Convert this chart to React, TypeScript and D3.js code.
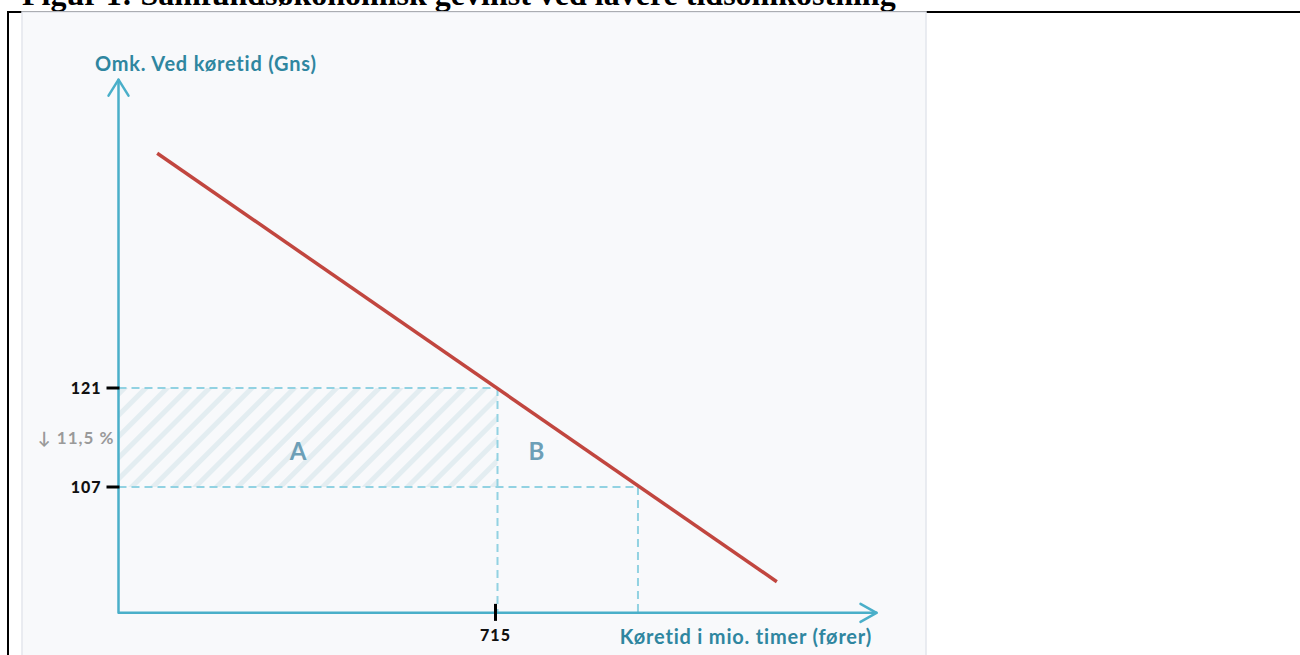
import React from "react";
import * as d3 from "d3";

// ---- data ----
const titleText = "Figur 1: Samfundsøkonomisk gevinst ved lavere tidsomkostning";
const yAxisTitle = "Omk. Ved køretid (Gns)";
const xAxisTitle = "Køretid i mio. timer (fører)";
const priceTicks = [121, 107];
const quantityTicks = [715];
const priceOld = 121;
const priceNew = 107;
const quantityOld = 715;
const quantityNew = 980;
const demandQ = [73, 1242];
const demandP = [154.2, 93.6];
const changeLabel = "↓ 11,5 %";
const areaLabels = ["A", "B"];

const W = 1300;
const H = 655;

export default function App() {
  const x = d3.scaleLinear().domain([0, 715]).range([118.5, 497.5]);
  const y = d3.scaleLinear().domain([107, 121]).range([487, 388]);
  const x0 = x(0);
  const yBase = y(89.2);
  const yTop = y(164.6);
  const xEnd = x(1430);

  const lineGen = d3
    .line<[number, number]>()
    .x((d) => x(d[0]))
    .y((d) => y(d[1]));
  const demand: [number, number][] = demandQ.map((q, i) => [q, demandP[i]]);

  const axisColor = "#4aafc9";
  const dashColor = "#92d2e2";
  const titleColor = "#2f86a0";
  const font = "Lato, 'Open Sans', sans-serif";

  return (
    <svg
      width={W}
      height={H}
      style={{ position: "absolute", left: 0, top: 0, display: "block" }}
    >
      <defs>
        <pattern
          id="hatch"
          patternUnits="userSpaceOnUse"
          width={15}
          height={15}
          patternTransform="rotate(45)"
        >
          <rect width={15} height={15} fill="#f8f9fb" />
          <rect x={0} y={0} width={5} height={15} fill="#e3edf1" />
        </pattern>
      </defs>
      <rect width={W} height={H} fill="#ffffff" />
      <text
        x={22}
        y={5}
        fontFamily="'Liberation Serif', 'Times New Roman', serif"
        fontWeight="bold"
        fontSize={32}
        fill="#000"
      >
        {titleText}
      </text>
      <line x1={7} x2={W} y1={12} y2={12} stroke="#000" strokeWidth={2} />
      <line x1={8} x2={8} y1={11} y2={H} stroke="#000" strokeWidth={2} />
      <rect x={22} y={12} width={904} height={H} fill="#f8f9fb" stroke="#e3e6ed" strokeWidth={1.5} />

      {/* hatched area A */}
      <rect
        x={x0}
        y={y(priceOld)}
        width={x(quantityOld) - x0}
        height={y(priceNew) - y(priceOld)}
        fill="url(#hatch)"
      />

      {/* dashed guides */}
      <g stroke={dashColor} strokeWidth={2} strokeDasharray="8,5" fill="none">
        <line x1={x0} x2={x(quantityOld)} y1={y(priceOld)} y2={y(priceOld)} />
        <line x1={x(quantityOld)} x2={x(quantityOld)} y1={y(priceOld)} y2={yBase} />
        <line x1={x0} x2={x(quantityNew)} y1={y(priceNew)} y2={y(priceNew)} />
        <line x1={x(quantityNew)} x2={x(quantityNew)} y1={y(priceNew)} y2={yBase} />
      </g>

      {/* axes */}
      <g stroke={axisColor} strokeWidth={2.5} fill="none" strokeLinecap="round" strokeLinejoin="round">
        <polyline points={`${x0},${yTop} ${x0},${yBase} ${xEnd},${yBase}`} />
        <polyline points={`${x0 - 10},${yTop + 16} ${x0},${yTop} ${x0 + 10},${yTop + 16}`} />
        <polyline points={`${xEnd - 16},${yBase - 9} ${xEnd},${yBase} ${xEnd - 16},${yBase + 9}`} />
      </g>

      {/* demand line */}
      <path d={lineGen(demand) || ""} stroke="#c1463f" strokeWidth={3.5} fill="none" />

      {/* ticks */}
      {priceTicks.map((p) => (
        <g key={p}>
          <line x1={x0 - 12} x2={x0 + 1} y1={y(p)} y2={y(p)} stroke="#000" strokeWidth={3} />
          <text
            x={x0 - 17}
            y={y(p)}
            dy="0.36em"
            textAnchor="end"
            fontFamily={font}
            fontWeight="900"
            fontSize={16}
            fill="#111"
            letterSpacing={1}
          >
            {p}
          </text>
        </g>
      ))}
      {quantityTicks.map((q) => (
        <g key={q}>
          <line x1={x(q) - 2} x2={x(q) - 2} y1={yBase - 9} y2={yBase + 8} stroke="#000" strokeWidth={3} />
          <text
            x={x(q) - 2}
            y={641}
            textAnchor="middle"
            fontFamily={font}
            fontWeight="900"
            fontSize={16}
            fill="#111"
            letterSpacing={1}
          >
            {q}
          </text>
        </g>
      ))}

      <text
        x={x0 - 4}
        y={(y(priceOld) + y(priceNew)) / 2}
        dy="0.36em"
        textAnchor="end"
        fontFamily={font}
        fontWeight="bold"
        fontSize={17}
        fill="#9a9a9a"
        letterSpacing={1}
      >
        {changeLabel}
      </text>

      <text
        x={(x0 + x(quantityOld)) / 2 - 10}
        y={452}
        dy="0.35em"
        textAnchor="middle"
        fontFamily={font}
        fontWeight="bold"
        fontSize={24}
        fill="#6d9fb7"
      >
        {areaLabels[0]}
      </text>
      <text
        x={x(quantityOld) + 39}
        y={452}
        dy="0.35em"
        textAnchor="middle"
        fontFamily={font}
        fontWeight="bold"
        fontSize={24}
        fill="#6d9fb7"
      >
        {areaLabels[1]}
      </text>

      <text
        x={95}
        y={71}
        fontFamily={font}
        fontWeight="bold"
        fontSize={20}
        fill={titleColor}
        letterSpacing={0.8}
      >
        {yAxisTitle}
      </text>
      <text
        x={872}
        y={644}
        textAnchor="end"
        fontFamily={font}
        fontWeight="bold"
        fontSize={20}
        fill={titleColor}
        letterSpacing={0.8}
      >
        {xAxisTitle}
      </text>
    </svg>
  );
}
